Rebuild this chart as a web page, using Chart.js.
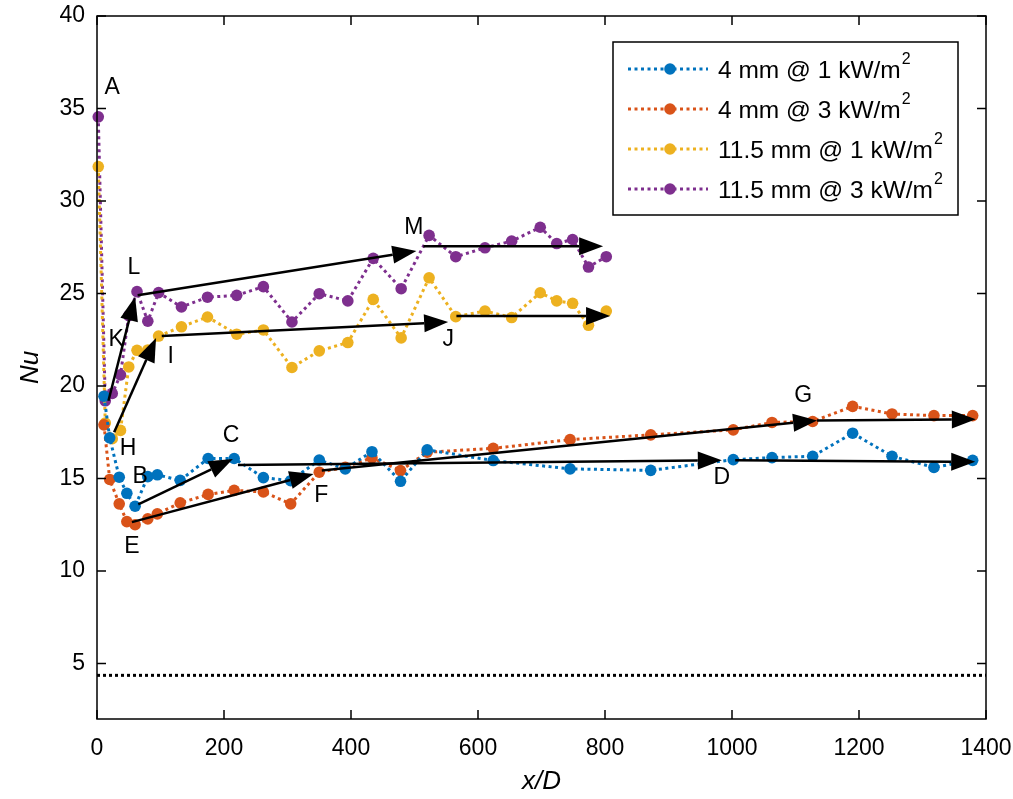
<!DOCTYPE html>
<html>
<head>
<meta charset="utf-8">
<script src="https://cdn.jsdelivr.net/npm/chart.js@4.4.1/dist/chart.umd.min.js"></script>
<style>
html, body { margin: 0; padding: 0; background: #fff; }
#wrap { width: 1013px; height: 799px; }
</style>
</head>
<body>
<div id="wrap"><canvas id="nuChart" width="1013" height="799"></canvas></div>
<script>
// x/D positions for the two tube sizes
var x4mm = [11, 20, 35, 47, 60, 80, 95, 131, 175, 216, 262, 305, 350, 391, 433, 478, 520, 624, 745, 872, 1002, 1063, 1127, 1190, 1252, 1318, 1379];
var x11mm = [2, 13, 24, 37, 50, 63, 80, 97, 133, 174, 220, 262, 307, 350, 395, 435, 479, 523, 565, 611, 653, 698, 724, 749, 774, 802];

// Nu values
var nu4mm1kw = [19.45, 17.2, 15.07, 14.2, 13.5, 15.1, 15.2, 14.9, 16.08, 16.08, 15.05, 14.88, 16.0, 15.52, 16.45, 14.85, 16.55, 15.97, 15.52, 15.44, 16.02, 16.13, 16.2, 17.45, 16.2, 15.6, 15.98];
var nu4mm3kw = [17.9, 14.95, 13.63, 12.67, 12.5, 12.82, 13.09, 13.68, 14.14, 14.36, 14.27, 13.63, 15.34, 15.6, 16.12, 15.43, 16.42, 16.63, 17.1, 17.36, 17.63, 18.03, 18.08, 18.9, 18.49, 18.4, 18.4];
var nu11mm1kw = [31.86, 18.0, 17.15, 17.6, 21.03, 21.93, 21.95, 22.7, 23.2, 23.73, 22.8, 23.03, 21.0, 21.9, 22.35, 24.68, 22.6, 25.85, 23.75, 24.05, 23.7, 25.04, 24.6, 24.47, 23.28, 24.05];
var nu11mm3kw = [34.55, 19.2, 19.6, 20.6, 23.8, 25.1, 23.5, 25.05, 24.27, 24.8, 24.9, 25.37, 23.46, 24.99, 24.6, 26.9, 25.26, 28.14, 26.99, 27.47, 27.83, 28.58, 27.7, 27.92, 26.43, 26.99];

// fully developed laminar value
var laminarX = [0, 1400];
var laminarNu = [4.36, 4.36];

var seriesNames = ['4 mm @ 1 kW/m', '4 mm @ 3 kW/m', '11.5 mm @ 1 kW/m', '11.5 mm @ 3 kW/m'];
var seriesColors = ['#0072BD', '#D95319', '#EDB120', '#7E2F8E'];

var xTicks = [0, 200, 400, 600, 800, 1000, 1200, 1400];
var yTicks = [5, 10, 15, 20, 25, 30, 35, 40];

// trend arrows (data coords)
var arrowFromX = [65, 222, 1005, 55, 354, 1134, 27, 102, 566, 18, 64, 514];
var arrowFromY = [13.6, 15.73, 15.98, 12.64, 15.43, 18.14, 17.5, 22.7, 23.78, 19.2, 24.9, 27.56];
var arrowToX = [214, 984, 1383, 341, 1134, 1384, 93, 553, 808, 60, 503, 797];
var arrowToY = [16.05, 15.98, 15.9, 15.25, 18.14, 18.2, 22.6, 23.46, 23.78, 24.83, 27.3, 27.56];

// point labels
var labelText = ['A', 'B', 'C', 'D', 'E', 'F', 'G', 'H', 'I', 'J', 'K', 'L', 'M'];
var labelX = [24, 68, 211, 984, 55, 353, 1112, 49, 116, 553, 30, 58, 499];
var labelY = [36.1, 15.08, 17.3, 15.03, 11.3, 14.06, 19.5, 16.6, 21.56, 22.53, 22.53, 26.4, 28.57];

function pts(xs, ys) {
    return xs.map(function (x, i) { return { x: x, y: ys[i] }; });
}

function series(name, xs, ys, color) {
    return {
        label: name,
        data: pts(xs, ys),
        borderColor: color,
        backgroundColor: color,
        borderWidth: 3,
        borderDash: [3, 3.5],
        pointRadius: 5.8,
        pointBorderWidth: 0,
        pointBackgroundColor: color,
        tension: 0,
        clip: false
    };
}

var textFont = '"Liberation Sans", Arial, sans-serif';
var tickFont = { family: textFont, size: 23 };

var overlay = {
    id: 'overlay',
    afterDatasetsDraw: function (chart) {
        var ctx = chart.ctx;
        var xs = chart.scales.x, ys = chart.scales.y;
        var a = chart.chartArea;
        ctx.save();

        // arrows
        ctx.strokeStyle = '#000';
        ctx.fillStyle = '#000';
        ctx.lineWidth = 2.5;
        for (var i = 0; i < arrowFromX.length; i++) {
            var x0 = xs.getPixelForValue(arrowFromX[i]), y0 = ys.getPixelForValue(arrowFromY[i]);
            var x1 = xs.getPixelForValue(arrowToX[i]), y1 = ys.getPixelForValue(arrowToY[i]);
            var ang = Math.atan2(y1 - y0, x1 - x0);
            var hl = 24, hw = 9;
            var bx = x1 - hl * Math.cos(ang), by = y1 - hl * Math.sin(ang);
            ctx.beginPath();
            ctx.moveTo(x0, y0);
            ctx.lineTo(bx, by);
            ctx.stroke();
            ctx.beginPath();
            ctx.moveTo(x1, y1);
            ctx.lineTo(bx + hw * Math.sin(ang), by - hw * Math.cos(ang));
            ctx.lineTo(bx - hw * Math.sin(ang), by + hw * Math.cos(ang));
            ctx.closePath();
            ctx.fill();
        }

        // letters
        ctx.font = '23px ' + textFont;
        ctx.textAlign = 'center';
        ctx.textBaseline = 'middle';
        for (var j = 0; j < labelText.length; j++) {
            ctx.fillText(labelText[j], xs.getPixelForValue(labelX[j]), ys.getPixelForValue(labelY[j]));
        }

        // axes box with inward ticks
        ctx.lineWidth = 1.5;
        ctx.strokeRect(a.left, a.top, a.right - a.left, a.bottom - a.top);
        ctx.beginPath();
        xTicks.forEach(function (v) {
            var px = xs.getPixelForValue(v);
            ctx.moveTo(px, a.bottom); ctx.lineTo(px, a.bottom - 9);
            ctx.moveTo(px, a.top); ctx.lineTo(px, a.top + 9);
        });
        yTicks.forEach(function (v) {
            var py = ys.getPixelForValue(v);
            ctx.moveTo(a.left, py); ctx.lineTo(a.left + 9, py);
            ctx.moveTo(a.right, py); ctx.lineTo(a.right - 9, py);
        });
        ctx.stroke();

        // legend
        var lx = 613, ly = 42, lw = 345, lh = 173;
        ctx.fillStyle = '#fff';
        ctx.fillRect(lx, ly, lw, lh);
        ctx.strokeStyle = '#000';
        ctx.lineWidth = 1.5;
        ctx.strokeRect(lx, ly, lw, lh);
        var rowY = [69, 109, 149, 189];
        for (var k = 0; k < seriesNames.length; k++) {
            var ry = rowY[k];
            ctx.strokeStyle = seriesColors[k];
            ctx.lineWidth = 3;
            ctx.setLineDash([3, 3.5]);
            ctx.beginPath();
            ctx.moveTo(628, ry); ctx.lineTo(708, ry);
            ctx.stroke();
            ctx.setLineDash([]);
            ctx.fillStyle = seriesColors[k];
            ctx.beginPath();
            ctx.arc(670, ry, 5.8, 0, Math.PI * 2);
            ctx.fill();
            ctx.fillStyle = '#000';
            ctx.textAlign = 'left';
            ctx.textBaseline = 'alphabetic';
            ctx.font = '24.5px ' + textFont;
            ctx.fillText(seriesNames[k], 718, ry + 9);
            var w = ctx.measureText(seriesNames[k]).width;
            ctx.font = '16px ' + textFont;
            ctx.fillText('2', 718 + w + 1, ry - 5);
        }
        ctx.restore();
    }
};

var datasets = [
    series(seriesNames[0], x4mm, nu4mm1kw, seriesColors[0]),
    series(seriesNames[1], x4mm, nu4mm3kw, seriesColors[1]),
    series(seriesNames[2], x11mm, nu11mm1kw, seriesColors[2]),
    series(seriesNames[3], x11mm, nu11mm3kw, seriesColors[3]),
    {
        label: 'laminar',
        data: pts(laminarX, laminarNu),
        borderColor: '#000',
        borderWidth: 3,
        borderDash: [3, 3],
        pointRadius: 0,
        tension: 0
    }
];

new Chart(document.getElementById('nuChart'), {
    type: 'line',
    data: { datasets: datasets },
    plugins: [overlay],
    options: {
        responsive: false,
        animation: false,
        devicePixelRatio: 1,
        layout: { padding: { top: 16, right: 27, left: 0, bottom: 0 } },
        plugins: {
            legend: { display: false },
            tooltip: { enabled: false }
        },
        scales: {
            x: {
                type: 'linear',
                min: 0,
                max: 1400,
                afterBuildTicks: function (scale) {
                    scale.ticks = xTicks.map(function (v) { return { value: v }; });
                },
                afterFit: function (scale) {
                    scale.height = 80;
                    scale.paddingLeft = 0;
                    scale.paddingRight = 0;
                },
                grid: { display: false, drawTicks: false },
                border: { display: false },
                ticks: {
                    color: '#000', font: tickFont, padding: 16, maxRotation: 0,
                    callback: function (v) { return String(v); }
                },
                title: {
                    display: true,
                    text: 'x/D',
                    color: '#000',
                    font: { family: textFont, size: 26, style: 'italic' },
                    padding: { top: 0, bottom: 2 }
                }
            },
            y: {
                type: 'linear',
                min: 2,
                max: 40,
                afterBuildTicks: function (scale) {
                    scale.ticks = yTicks.map(function (v) { return { value: v }; });
                },
                afterFit: function (scale) {
                    scale.width = 97;
                    scale.paddingTop = 0;
                    scale.paddingBottom = 0;
                },
                grid: { display: false, drawTicks: false },
                border: { display: false },
                ticks: {
                    color: '#000', font: tickFont, padding: 12,
                    callback: function (v) { return String(v); }
                },
                title: {
                    display: true,
                    text: 'Nu',
                    color: '#000',
                    font: { family: textFont, size: 26, style: 'italic' },
                    padding: { top: 15, bottom: 0 }
                }
            }
        }
    }
});
</script>
</body>
</html>
